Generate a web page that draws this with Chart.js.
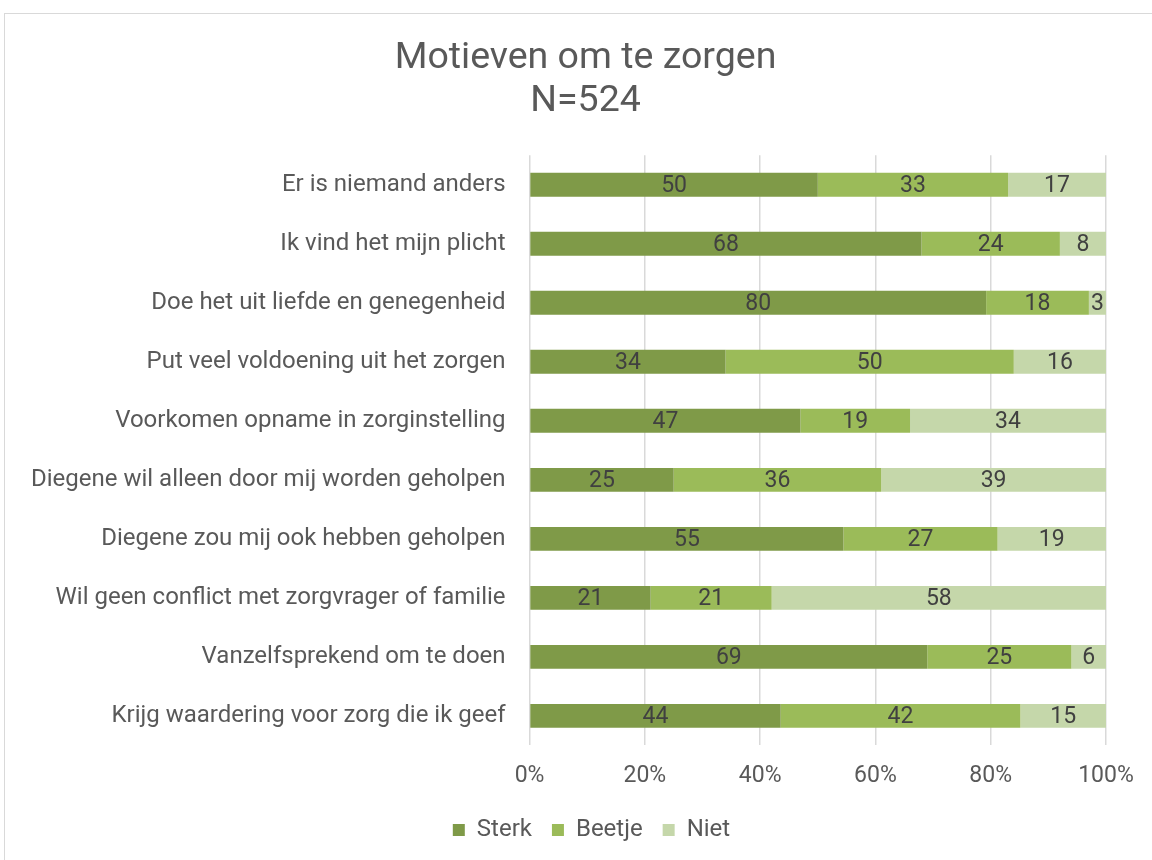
<!DOCTYPE html>
<html>
<head>
<meta charset="utf-8">
<script src="https://cdn.jsdelivr.net/npm/chart.js@4/dist/chart.umd.min.js"></script>
<style>
  html, body { margin: 0; padding: 0; background: #fff; }
  #wrap { position: relative; width: 1152px; height: 860px; overflow: hidden; }
  #frame { position: absolute; left: 4px; top: 13px; width: 1300px; height: 1000px; border: 1px solid #d9d9d9; box-sizing: border-box; }
  canvas { position: absolute; left: 0; top: 0; }
</style>
</head>
<body>
<div id="wrap">
  <div id="frame"></div>
  <canvas id="c" width="1152" height="860"></canvas>
</div>
<script>
const categories = [
  "Er is niemand anders",
  "Ik vind het mijn plicht",
  "Doe het uit liefde en genegenheid",
  "Put veel voldoening uit het zorgen",
  "Voorkomen opname in zorginstelling",
  "Diegene wil alleen door mij worden geholpen",
  "Diegene zou mij ook hebben geholpen",
  "Wil geen conflict met zorgvrager of familie",
  "Vanzelfsprekend om te doen",
  "Krijg waardering voor zorg die ik geef"
];
const sterk  = [50, 68, 80, 34, 47, 25, 55, 21, 69, 44];
const beetje = [33, 24, 18, 50, 19, 36, 27, 21, 25, 42];
const niet   = [17,  8,  3, 16, 34, 39, 19, 58,  6, 15];
const seriesNames = ["Sterk", "Beetje", "Niet"];
const xTickLabels = ["0%", "20%", "40%", "60%", "80%", "100%"];

const raw = [sterk, beetje, niet];
const totals = categories.map((_, i) => sterk[i] + beetje[i] + niet[i]);
const pct = raw.map(arr => arr.map((v, i) => v / totals[i] * 100));
const colors = ["#7f9a48", "#9bbb59", "#c5d7aa"];

const FONT = "Roboto, 'Noto Sans', sans-serif";

const labelPlugin = {
  id: 'segLabels',
  afterDatasetsDraw(chart) {
    const ctx = chart.ctx;
    ctx.save();
    ctx.font = "23px " + FONT;
    ctx.fillStyle = "#404040";
    ctx.textAlign = "center";
    ctx.textBaseline = "middle";
    chart.data.datasets.forEach((ds, di) => {
      const meta = chart.getDatasetMeta(di);
      meta.data.forEach((bar, i) => {
        const p = bar.getProps(['x', 'base', 'y'], true);
        const cx = (p.x + p.base) / 2;
        ctx.fillText(String(raw[di][i]), cx, p.y + 1);
      });
    });
    ctx.restore();
  }
};

// Centre title and legend over the whole frame rather than the padded area
const shiftPlugin = {
  id: 'shiftBlocks',
  afterLayout(chart) {
    if (chart.titleBlock) { chart.titleBlock.left += 29; chart.titleBlock.right += 29; }
    if (chart.legend) { chart.legend.left += 35; chart.legend.right += 35; }
  }
};

new Chart(document.getElementById('c'), {
  type: 'bar',
  data: {
    labels: categories,
    datasets: seriesNames.map((n, k) => ({
      label: n,
      data: pct[k],
      backgroundColor: colors[k],
      borderWidth: 0,
      barPercentage: 0.81,
      categoryPercentage: 0.5
    }))
  },
  options: {
    indexAxis: 'y',
    responsive: false,
    animation: false,
    devicePixelRatio: 1,
    layout: { padding: { left: 7, right: 46, top: 0, bottom: 8 } },
    scales: {
      x: {
        stacked: true,
        min: 0, max: 100,
        afterFit: (s) => { s.height -= 9; },
        ticks: {
          stepSize: 20,
          padding: 17,
          color: "#595959",
          font: { family: FONT, size: 23 },
          callback: (v, i) => xTickLabels[i]
        },
        grid: { color: "#d9d9d9", lineWidth: 1.5, drawTicks: false },
        border: { display: false }
      },
      y: {
        stacked: true,
        ticks: {
          padding: 24,
          color: "#595959",
          font: { family: FONT, size: 24 }
        },
        grid: { display: false, drawTicks: false },
        border: { display: false }
      }
    },
    plugins: {
      title: {
        display: true,
        text: ["Motieven om te zorgen", "N=524"],
        color: "#595959",
        font: { family: FONT, size: 37.5, weight: 'normal', lineHeight: 1.15 },
        padding: { top: 37, bottom: 32 }
      },
      legend: {
        position: 'bottom',
        labels: {
          boxWidth: 12,
          boxHeight: 12,
          padding: 20,
          color: "#595959",
          font: { family: FONT, size: 24 }
        }
      },
      tooltip: { enabled: false }
    }
  },
  plugins: [labelPlugin, shiftPlugin]
});
</script>
</body>
</html>
